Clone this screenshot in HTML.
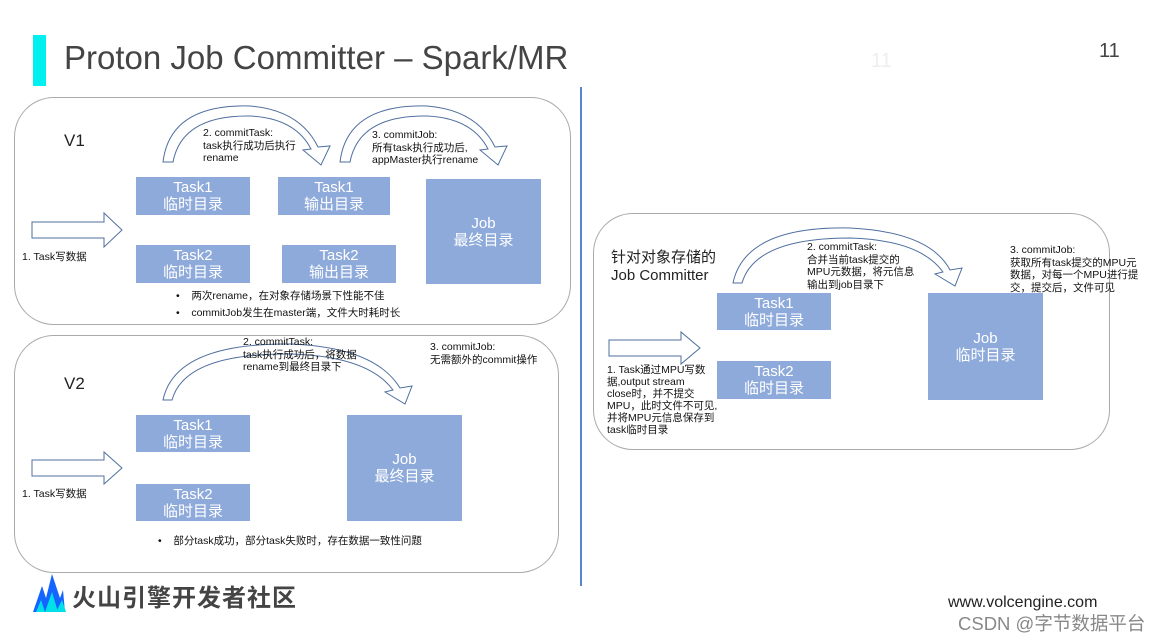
<!DOCTYPE html>
<html><head><meta charset="utf-8">
<style>
body{margin:0;width:1164px;height:641px;background:#fff;position:relative;overflow:hidden;font-family:"Liberation Sans","Noto Sans CJK SC",sans-serif;color:#222}
.a{position:absolute}
.box{position:absolute;background:#8eaadb;color:#fff;font-size:15px;line-height:17px;text-align:center;display:flex;flex-direction:column;justify-content:center}
.t{position:absolute;font-size:10.5px;line-height:12.5px;color:#111;white-space:nowrap}
.panel{position:absolute;border:1.3px solid #aaa;border-radius:40px;box-sizing:border-box}
</style></head><body>
<div class="a" style="left:33px;top:35px;width:13px;height:51px;background:#00f0f0"></div>
<div class="a" style="left:64px;top:39px;font-size:33px;color:#444;white-space:nowrap">Proton Job Committer – Spark/MR</div>
<div class="a" style="left:1099px;top:40px;font-size:20px;color:#444">11</div>
<div class="a" style="left:871px;top:50px;font-size:20px;color:#eee">11</div>
<div class="a" style="left:580px;top:87px;width:2px;height:499px;background:#5b84d0"></div>

<div class="panel" style="left:14px;top:97px;width:557px;height:228px"></div>
<div class="panel" style="left:14px;top:335px;width:545px;height:238px"></div>
<div class="panel" style="left:593px;top:213px;width:517px;height:237px"></div>

<svg class="a" style="left:0;top:0" width="1164" height="641">
<g fill="#fff" stroke="#4f6f9f" stroke-width="1">
<path d="M163,162 Q170,104 250,106 Q300,110 318,147 L330,146 L321,165 L303,150 L311,149 Q295,118 250,116 Q182,115 173,162 Z"/>
<path d="M340,162 Q347,104 427,106 Q477,110 495,147 L507,146 L498,165 L480,150 L488,149 Q472,118 427,116 Q359,115 350,162 Z"/>
<path d="M163,400 Q175,343 290,344 Q375,347 400,388 L412,386 L405,404 L385,392 L393,390 Q368,356 290,354 Q185,353 172,400 Z"/>
<path d="M733,283 Q745,226 850,228 Q930,232 950,270 L962,268 L955,286 L935,274 L943,272 Q920,240 850,238 Q755,238 742,283 Z"/>
<path d="M32,222 L104,222 L104,213 L122,230 L104,247 L104,238 L32,238 Z"/>
<path d="M32,460 L104,460 L104,452 L122,468 L104,484 L104,476 L32,476 Z"/>
<path d="M609,340 L681,340 L681,332 L700,348 L681,364 L681,356 L609,356 Z"/>
</g>
<polygon points="33,612 42,586 46,598 52,574 60,598 63,590 65,612" fill="#1464ff"/>
<polygon points="36,612 41,600 45,612" fill="#00e0e8"/>
<polygon points="45,612 52,592 58,612" fill="#00e0e8"/>
<polygon points="56,612 62,600 66,612" fill="#00e0e8"/>
</svg>

<div class="a" style="left:64px;top:131px;font-size:17px">V1</div>
<div class="t" style="left:203px;top:127px">2. commitTask:<br>task执行成功后执行<br>rename</div>
<div class="t" style="left:372px;top:129px">3. commitJob:<br>所有task执行成功后,<br>appMaster执行rename</div>
<div class="box" style="left:136px;top:177px;width:114px;height:38px">Task1<br>临时目录</div>
<div class="box" style="left:278px;top:177px;width:112px;height:38px">Task1<br>输出目录</div>
<div class="box" style="left:136px;top:245px;width:114px;height:38px">Task2<br>临时目录</div>
<div class="box" style="left:282px;top:245px;width:114px;height:38px">Task2<br>输出目录</div>
<div class="box" style="left:426px;top:179px;width:115px;height:105px">Job<br>最终目录</div>
<div class="t" style="left:22px;top:251px">1. Task写数据</div>
<div class="t" style="left:176px;top:290px">•&nbsp;&nbsp;&nbsp;&nbsp;两次rename，在对象存储场景下性能不佳</div>
<div class="t" style="left:176px;top:307px">•&nbsp;&nbsp;&nbsp;&nbsp;commitJob发生在master端，文件大时耗时长</div>

<div class="a" style="left:64px;top:374px;font-size:17px">V2</div>
<div class="t" style="left:243px;top:336px">2. commitTask:<br>task执行成功后，将数据<br>rename到最终目录下</div>
<div class="t" style="left:430px;top:341px">3. commitJob:<br>无需额外的commit操作</div>
<div class="box" style="left:136px;top:415px;width:114px;height:37px">Task1<br>临时目录</div>
<div class="box" style="left:136px;top:484px;width:114px;height:37px">Task2<br>临时目录</div>
<div class="box" style="left:347px;top:415px;width:115px;height:106px">Job<br>最终目录</div>
<div class="t" style="left:22px;top:488px">1. Task写数据</div>
<div class="t" style="left:158px;top:535px">•&nbsp;&nbsp;&nbsp;&nbsp;部分task成功，部分task失败时，存在数据一致性问题</div>

<div class="a" style="left:611px;top:249px;font-size:15px;line-height:18px;white-space:nowrap">针对对象存储的<br>Job Committer</div>
<div class="t" style="left:807px;top:241px">2. commitTask:<br>合并当前task提交的<br>MPU元数据，将元信息<br>输出到job目录下</div>
<div class="t" style="left:1010px;top:244px">3. commitJob:<br>获取所有task提交的MPU元<br>数据，对每一个MPU进行提<br>交，提交后，文件可见</div>
<div class="box" style="left:717px;top:293px;width:114px;height:37px">Task1<br>临时目录</div>
<div class="box" style="left:717px;top:361px;width:114px;height:38px">Task2<br>临时目录</div>
<div class="box" style="left:928px;top:293px;width:115px;height:107px">Job<br>临时目录</div>
<div class="t" style="left:607px;top:364px;line-height:12px">1. Task通过MPU写数<br>据,output stream<br>close时，并不提交<br>MPU，此时文件不可见,<br>并将MPU元信息保存到<br>task临时目录</div>

<div class="a" style="left:72px;top:578px;font-size:24px;font-weight:bold;color:#444;letter-spacing:1px;white-space:nowrap">火山引擎开发者社区</div>
<div class="a" style="left:948px;top:594px;font-size:16px;color:#222;white-space:nowrap">www.volcengine.com</div>
<div class="a" style="left:958px;top:610px;font-size:18.5px;color:#888;white-space:nowrap">CSDN @字节数据平台</div>
</body></html>
